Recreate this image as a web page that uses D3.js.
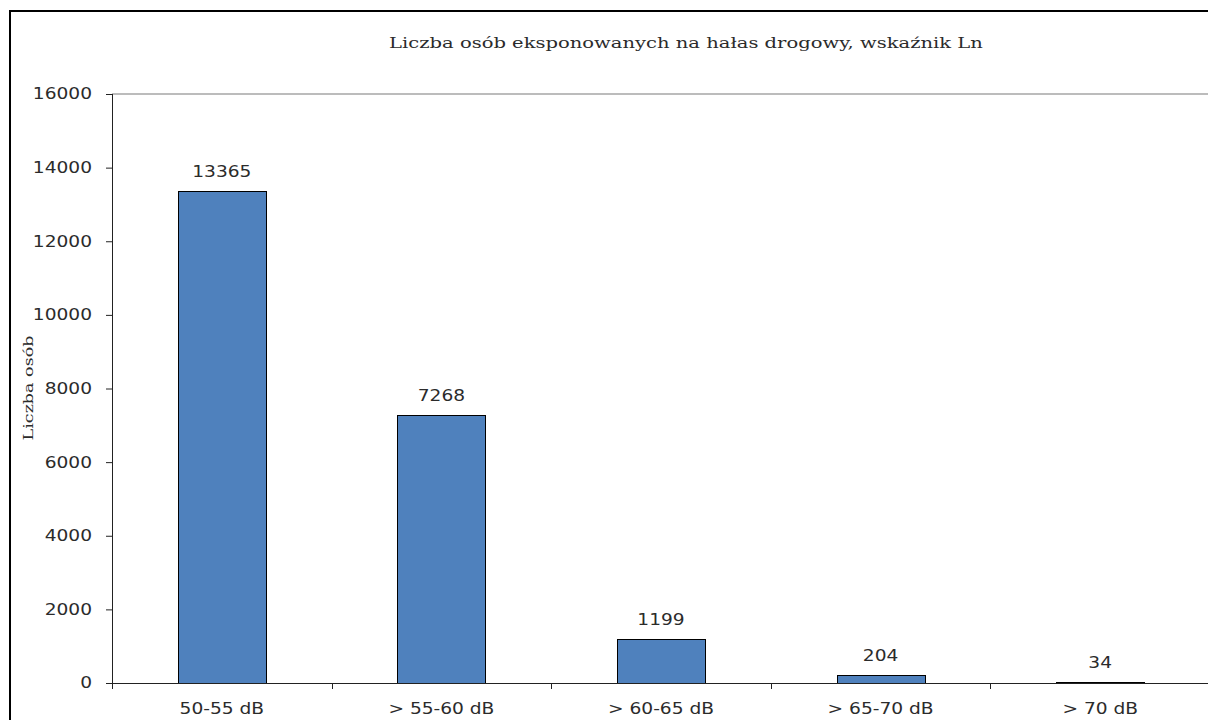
<!DOCTYPE html>
<html>
<head>
<meta charset="utf-8">
<script src="https://cdn.jsdelivr.net/npm/d3@7"></script>
<style>
  body { margin: 0; background: #fff; }
  svg { display: block; }
</style>
</head>
<body>
<div id="chart"></div>
<script>
// data
const categories = ["50-55 dB", "> 55-60 dB", "> 60-65 dB", "> 65-70 dB", "> 70 dB"];
const people = [13365, 7268, 1199, 204, 34];
const yTicks = [0, 2000, 4000, 6000, 8000, 10000, 12000, 14000, 16000];
const title = "Liczba osób  eksponowanych na hałas  drogowy, wskaźnik Ln";
const yTitle = "Liczba osób";

// the original uses wide fonts, so text gets stretched along its direction
var sansK = 1.2, serifK = 1.26;
var ink = "#2b2b2b";

var W = 1208, H = 720;
var margin = {top: 94, right: -2, bottom: 37, left: 112},
    width = W - margin.left - margin.right,
    height = H - margin.top - margin.bottom;

var svg = d3.select("#chart").append("svg")
    .attr("width", W)
    .attr("height", H);

// outer chart border (runs off the right and bottom edge)
svg.append("rect")
    .attr("x", 10).attr("y", 11)
    .attr("width", W + 20).attr("height", H + 20)
    .attr("fill", "none")
    .attr("stroke", "#000")
    .attr("stroke-width", 2);

svg.append("text")
    .attr("transform", "translate(686,48) scale(" + serifK + ",1)")
    .attr("text-anchor", "middle")
    .style("font-family", "'DejaVu Serif', serif")
    .style("font-size", "15.5px")
    .style("fill", ink)
    .text(title);

var g = svg.append("g")
    .attr("transform", "translate(" + margin.left + "," + margin.top + ")");

var x = d3.scaleBand().domain(categories).range([0, width]).paddingInner(0.6).paddingOuter(0.3);
var y = d3.scaleLinear().domain([0, 16000]).range([height, 0]);

// top border of plot area
g.append("line")
    .attr("x1", 0).attr("x2", width)
    .attr("y1", y(16000)).attr("y2", y(16000))
    .attr("stroke", "#a6a6a6")
    .attr("stroke-width", 1.5);

// bars
g.selectAll(".bar")
    .data(people)
  .enter().append("rect")
    .attr("class", "bar")
    .attr("x", function(d, i) { return Math.round(x(categories[i])) + 0.5; })
    .attr("y", function(d) { return Math.round(y(d)) + 0.5; })
    .attr("width", Math.round(x.bandwidth()))
    .attr("height", function(d) { return Math.round(height - y(d)); })
    .attr("fill", "#4f81bd")
    .attr("stroke", "#000")
    .attr("stroke-width", 1);

// value labels
g.selectAll(".lbl")
    .data(people)
  .enter().append("text")
    .attr("class", "lbl")
    .attr("transform", function(d, i) {
      return "translate(" + (x(categories[i]) + x.bandwidth() / 2) + "," + (y(d) - 14) + ") scale(" + sansK + ",1)";
    })
    .attr("text-anchor", "middle")
    .style("font-family", "'DejaVu Sans', sans-serif")
    .style("font-size", "15.5px")
    .style("fill", ink)
    .text(function(d) { return d; });

// Y axis
var yAxis = g.append("g")
    .call(d3.axisLeft(y).tickValues(yTicks).tickSize(6).tickFormat(d3.format("d")));
yAxis.selectAll("text")
    .attr("x", -20 / sansK)
    .attr("transform", "scale(" + sansK + ",1)")
    .style("font-family", "'DejaVu Sans', sans-serif")
    .style("font-size", "15.5px")
    .style("fill", ink);
yAxis.select(".domain").attr("stroke", "#222").attr("d", "M0.5,0V" + height);
yAxis.selectAll(".tick line").attr("stroke", "#222");

// X axis with ticks at band boundaries
var xAxis = g.append("g")
    .attr("transform", "translate(0," + height + ")")
    .call(d3.axisBottom(x).tickSize(0).tickPadding(20));
xAxis.select(".domain").attr("stroke", "#222").attr("d", "M-6,0.5H" + width);
xAxis.selectAll("text")
    .attr("transform", "scale(" + sansK + ",1)")
    .style("font-family", "'DejaVu Sans', sans-serif")
    .style("font-size", "15.5px")
    .style("fill", ink);
var step = x.step();
g.selectAll(".xtick")
    .data(d3.range(categories.length + 1))
  .enter().append("line")
    .attr("x1", function(i) { return Math.round(i * step) + 0.5; })
    .attr("x2", function(i) { return Math.round(i * step) + 0.5; })
    .attr("y1", height).attr("y2", height + 6)
    .attr("stroke", "#222");

// Y axis title
svg.append("text")
    .attr("transform", "translate(33,388) rotate(-90) scale(1.3,1)")
    .attr("text-anchor", "middle")
    .style("font-family", "'DejaVu Serif', serif")
    .style("font-size", "13.5px")
    .style("fill", ink)
    .text(yTitle);
</script>
</body>
</html>
